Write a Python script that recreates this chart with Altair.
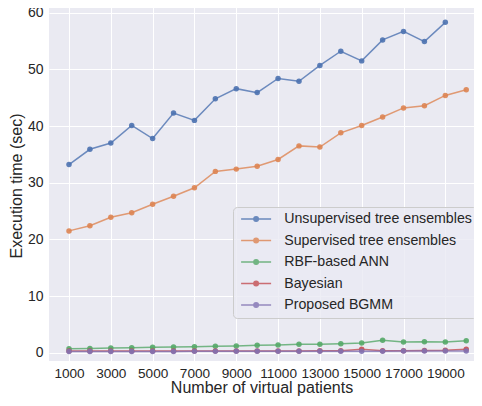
import altair as alt
import pandas as pd

x_values = [1000, 2000, 3000, 4000, 5000, 6000, 7000, 8000, 9000, 10000,
            11000, 12000, 13000, 14000, 15000, 16000, 17000, 18000, 19000, 20000]
unsupervised = [33.2, 35.9, 37.0, 40.1, 37.8, 42.3, 41.0, 44.8, 46.6, 45.9,
                48.4, 47.9, 50.7, 53.2, 51.5, 55.2, 56.7, 54.9, 58.3, None]
supervised = [21.5, 22.4, 23.9, 24.7, 26.2, 27.6, 29.1, 32.0, 32.4, 32.9,
              34.1, 36.5, 36.3, 38.8, 40.1, 41.6, 43.2, 43.6, 45.4, 46.4]
rbf_ann = [0.7, 0.75, 0.85, 0.9, 0.95, 1.0, 1.05, 1.15, 1.2, 1.3,
           1.36, 1.5, 1.5, 1.6, 1.7, 2.2, 1.9, 1.95, 1.9, 2.1]
bayesian = [0.3, 0.3, 0.3, 0.3, 0.3, 0.3, 0.3, 0.3, 0.3, 0.3,
            0.3, 0.3, 0.35, 0.35, 0.6, 0.35, 0.35, 0.4, 0.45, 0.6]
bgmm = [0.2, 0.2, 0.22, 0.22, 0.23, 0.23, 0.24, 0.24, 0.25, 0.25,
        0.26, 0.26, 0.27, 0.27, 0.28, 0.28, 0.29, 0.3, 0.3, 0.3]

series_names = ["Unsupervised tree ensembles", "Supervised tree ensembles",
                "RBF-based ANN", "Bayesian", "Proposed BGMM"]
series_values = [unsupervised, supervised, rbf_ann, bayesian, bgmm]
colors = ["#4C72B0", "#DD8452", "#55A868", "#C44E52", "#8172B3"]
x_ticks = [1000, 3000, 5000, 7000, 9000, 11000, 13000, 15000, 17000, 19000]
y_ticks = [0, 10, 20, 30, 40, 50, 60]

rows = []
for k, (name, vals) in enumerate(zip(series_names, series_values)):
    for xv, yv in zip(x_values, vals):
        if yv is not None:
            rows.append({"series": name, "order": k, "x": xv, "y": yv})
df = pd.DataFrame(rows)

FONT = "Liberation Sans"
TXT = "#262626"

sym = "M-3,0H3M-0.45,0a0.45,0.45 0 1,0 0.9,0a0.45,0.45 0 1,0 -0.9,0"

legend = alt.Legend(
    title=None, orient="none", legendX=184, legendY=202,
    symbolType=sym, symbolSize=100, symbolStrokeWidth=1.5, symbolOffset=11,
    labelOffset=21, labelFontSize=14.2, labelFont=FONT, labelColor=TXT,
    rowPadding=6.5, padding=5, fillColor="rgba(234,234,242,0.8)",
    strokeColor="#CCCCCC", cornerRadius=4, labelLimit=400,
)

color = alt.Color("series:N", scale=alt.Scale(domain=series_names, range=colors),
                  legend=legend, sort=series_names)

xenc = alt.X("x:Q", scale=alt.Scale(domain=[43.4, 20371], nice=False, zero=False),
             axis=alt.Axis(values=x_ticks, format="d", title="Number of virtual patients",
                           labelPadding=5, labelFontSize=13.6,
                           titleY=31, titleBaseline="alphabetic"))
yenc = alt.Y("y:Q", scale=alt.Scale(domain=[-1.46, 61.36], nice=False, zero=False),
             axis=alt.Axis(values=y_ticks, title="Execution time (sec)",
                           labelPadding=6, titleX=-33, titleY=180.5,
                           titleAngle=270, titleAlign="center", titleBaseline="middle"))

lines = alt.Chart(df).mark_line(strokeWidth=1.5, opacity=0.8, clip=True).encode(
    x=xenc, y=yenc, color=color, order="x:Q", detail="series:N")
points = alt.Chart(df).mark_circle(size=30, opacity=0.9, clip=True).encode(
    x=xenc, y=yenc, color=color)

chart = alt.layer(lines, points).properties(
    width=425, height=356,
    autosize=alt.AutoSizeParams(type="none"),
    padding={"left": 41, "top": -3, "right": 0, "bottom": 35},
    background="white",
).configure_view(fill="#EAEAF2", stroke=None).configure_axis(
    grid=True, gridColor="white", gridWidth=1, domain=False, ticks=False,
    labelFont=FONT, labelFontSize=14, labelColor=TXT,
    titleFont=FONT, titleFontSize=16, titleColor=TXT, titleFontWeight="normal",
)

chart.save("out.html", embed_options={"renderer": "svg", "actions": False})
